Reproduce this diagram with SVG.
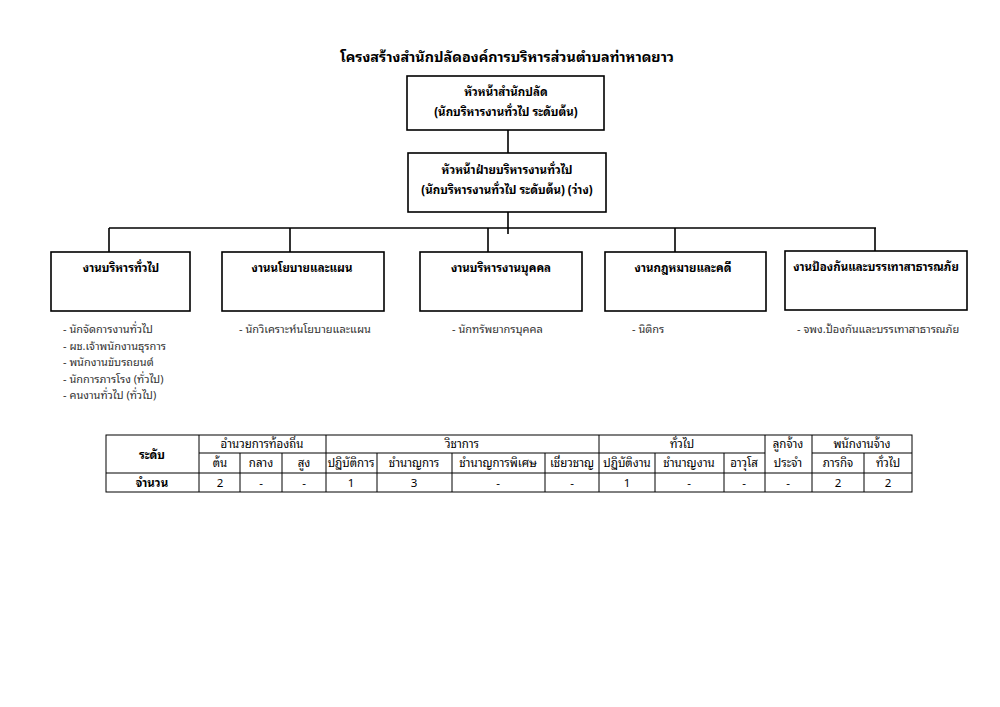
<svg xmlns="http://www.w3.org/2000/svg" width="1000" height="707" viewBox="0 0 1000 707">
<style>
text{font-family:Tahoma,"Noto Sans Thai Looped","Noto Sans Thai","Noto Sans","DejaVu Sans",sans-serif;fill:#000}
.t{font-size:14.3px;font-weight:bold}
.b{font-size:11.5px;font-weight:bold;text-anchor:middle}
.s{font-size:11px;fill:#333}
.c{font-size:11.5px;text-anchor:middle}
.box{fill:#fff;stroke:#000;stroke-width:1.6}
.ln{stroke:#000;stroke-width:1.6;fill:none}
.tb{stroke:#000;stroke-width:1;fill:none}
</style>
<rect width="1000" height="707" fill="#fff"/>
<text class="t" x="507" y="62" text-anchor="middle">โครงสร้างสำนักปลัดองค์การบริหารส่วนตำบลท่าหาดยาว</text>
<g id="connectors">
<line class="ln" x1="508" y1="127" x2="508" y2="153"/>
<line class="ln" x1="508" y1="212" x2="508" y2="234"/>
<line class="ln" x1="109" y1="228" x2="876" y2="228"/>
<line class="ln" x1="109" y1="228" x2="109" y2="252"/>
<line class="ln" x1="290" y1="228" x2="290" y2="252"/>
<line class="ln" x1="488" y1="228" x2="488" y2="252"/>
<line class="ln" x1="675" y1="228" x2="675" y2="252"/>
<line class="ln" x1="875" y1="228" x2="875" y2="252"/>
</g>
<g id="n-head">
<rect class="box" x="407" y="76" width="197" height="54"/>
<text class="b" x="506" y="96">หัวหน้าสำนักปลัด</text>
<text class="b" x="506" y="116">(นักบริหารงานทั่วไป ระดับต้น)</text>
</g>
<g id="n-admin-head">
<rect class="box" x="408" y="153" width="198" height="59"/>
<text class="b" x="507" y="174">หัวหน้าฝ่ายบริหารงานทั่วไป</text>
<text class="b" x="507" y="194">(นักบริหารงานทั่วไป ระดับต้น) (ว่าง)</text>
</g>
<g id="n-general">
<rect class="box" x="51" y="252" width="139" height="59"/>
<text class="b" x="121" y="272">งานบริหารทั่วไป</text>
</g>
<g id="n-policy">
<rect class="box" x="222" y="252" width="162" height="59"/>
<text class="b" x="302" y="272">งานนโยบายและแผน</text>
</g>
<g id="n-personnel">
<rect class="box" x="420" y="252" width="162" height="59"/>
<text class="b" x="501" y="272">งานบริหารงานบุคคล</text>
</g>
<g id="n-law">
<rect class="box" x="605" y="252" width="161" height="59"/>
<text class="b" x="683" y="272">งานกฎหมายและคดี</text>
</g>
<g id="n-disaster">
<rect class="box" x="785" y="251" width="182" height="59"/>
<text class="b" x="876" y="271">งานป้องกันและบรรเทาสาธารณภัย</text>
</g>
<g id="lists">
<text class="s" x="63" y="333">- นักจัดการงานทั่วไป</text>
<text class="s" x="63" y="350">- ผช.เจ้าพนักงานธุรการ</text>
<text class="s" x="63" y="366">- พนักงานขับรถยนต์</text>
<text class="s" x="63" y="383">- นักการภารโรง (ทั่วไป)</text>
<text class="s" x="63" y="399">- คนงานทั่วไป (ทั่วไป)</text>
<text class="s" x="239" y="333">- นักวิเคราะห์นโยบายและแผน</text>
<text class="s" x="452" y="333">- นักทรัพยากรบุคคล</text>
<text class="s" x="632" y="333">- นิติกร</text>
<text class="s" x="797" y="333">- จพง.ป้องกันและบรรเทาสาธารณภัย</text>
</g>
<g id="table">
<rect class="tb" x="106" y="435" width="806" height="57"/>
<line class="tb" x1="199" y1="453" x2="765" y2="453"/>
<line class="tb" x1="812" y1="453" x2="912" y2="453"/>
<line class="tb" x1="106" y1="473" x2="912" y2="473"/>
<line class="tb" x1="199" y1="435" x2="199" y2="492"/>
<line class="tb" x1="240" y1="453" x2="240" y2="492"/>
<line class="tb" x1="282" y1="453" x2="282" y2="492"/>
<line class="tb" x1="326" y1="435" x2="326" y2="492"/>
<line class="tb" x1="377" y1="453" x2="377" y2="492"/>
<line class="tb" x1="452" y1="453" x2="452" y2="492"/>
<line class="tb" x1="545" y1="453" x2="545" y2="492"/>
<line class="tb" x1="599" y1="435" x2="599" y2="492"/>
<line class="tb" x1="655" y1="453" x2="655" y2="492"/>
<line class="tb" x1="724" y1="453" x2="724" y2="492"/>
<line class="tb" x1="765" y1="435" x2="765" y2="492"/>
<line class="tb" x1="812" y1="435" x2="812" y2="492"/>
<line class="tb" x1="864" y1="453" x2="864" y2="492"/>
<text class="c" x="152" y="459" font-weight="bold">ระดับ</text>
<text class="c" x="262" y="448">อำนวยการท้องถิ่น</text>
<text class="c" x="462" y="448">วิชาการ</text>
<text class="c" x="682" y="448">ทั่วไป</text>
<text class="c" x="788" y="448">ลูกจ้าง</text>
<text class="c" x="862" y="448">พนักงานจ้าง</text>
<text class="c" x="220" y="467">ต้น</text>
<text class="c" x="261" y="467">กลาง</text>
<text class="c" x="304" y="467">สูง</text>
<text class="c" x="351" y="467">ปฏิบัติการ</text>
<text class="c" x="414" y="467">ชำนาญการ</text>
<text class="c" x="498" y="467">ชำนาญการพิเศษ</text>
<text class="c" x="572" y="467">เชี่ยวชาญ</text>
<text class="c" x="627" y="467">ปฏิบัติงาน</text>
<text class="c" x="689" y="467">ชำนาญงาน</text>
<text class="c" x="744" y="467">อาวุโส</text>
<text class="c" x="788" y="467">ประจำ</text>
<text class="c" x="838" y="467">ภารกิจ</text>
<text class="c" x="888" y="467">ทั่วไป</text>
<text class="c" x="152" y="487" font-weight="bold">จำนวน</text>
<text class="c" x="220" y="487">2</text>
<text class="c" x="261" y="487">-</text>
<text class="c" x="304" y="487">-</text>
<text class="c" x="351" y="487">1</text>
<text class="c" x="414" y="487">3</text>
<text class="c" x="498" y="487">-</text>
<text class="c" x="572" y="487">-</text>
<text class="c" x="627" y="487">1</text>
<text class="c" x="689" y="487">-</text>
<text class="c" x="744" y="487">-</text>
<text class="c" x="788" y="487">-</text>
<text class="c" x="838" y="487">2</text>
<text class="c" x="888" y="487">2</text>
</g>
</svg>
